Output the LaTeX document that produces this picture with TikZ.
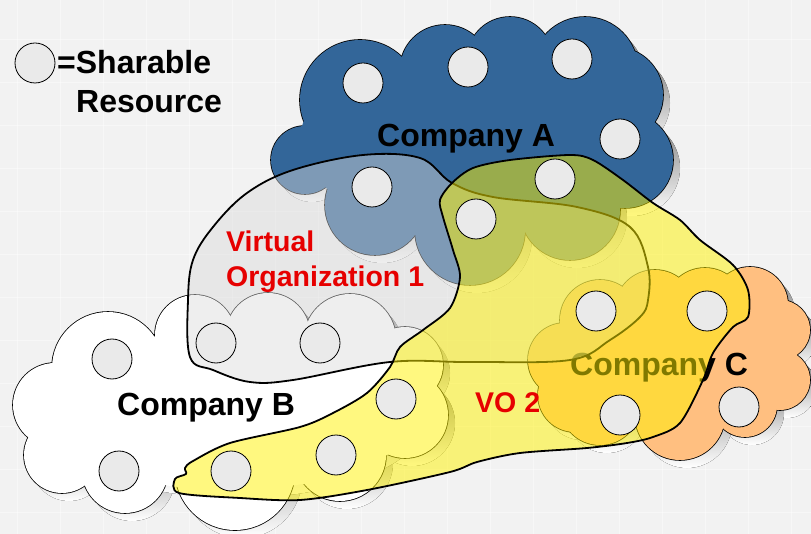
\documentclass[tikz,border=0pt]{standalone}
\usepackage{fontspec}
\setmainfont{Liberation Sans}
\definecolor{bgcol}{HTML}{F2F2F2}
\definecolor{compa}{HTML}{336699}
\definecolor{compc}{HTML}{FFBF80}
\definecolor{resgray}{HTML}{EAEAEA}
\definecolor{shade}{HTML}{808080}
\definecolor{vogray}{HTML}{DBDBDB}
\definecolor{vored}{HTML}{E60000}

% puffs of each cloud: x/y/radius
\newcommand\lobesA{305/160/34, 360/100/60, 445/70/45, 510/60/43, 585/70/53, 615/95/48, 625/160/48, 570/210/50, 470/230/55, 375/205/50}
\newcommand\lobesB{55/405/42, 108/368/56, 195/335/40, 268/335/42, 350/340/46, 405/365/38, 405/415/43, 340/455/46, 235/470/60, 125/470/43, 62/455/38}
\newcommand\lobesC{565/360/37, 600/320/40, 655/310/40, 705/308/40, 750/305/38, 780/330/30, 780/380/30, 745/405/32, 680/415/45, 600/405/40, 575/395/37}

% cloud with drop shadow: puffs, colour, centre, ellipse radii
\newcommand\cloudshape[4]{%
  \begin{scope}[shift={(7,8)}]
    \foreach \cx/\cy/\rad in #1 \fill[shade] (\cx,\cy) circle[radius=\rad pt];
    \fill[shade] #3 ellipse[#4];
  \end{scope}
  \foreach \cx/\cy/\rad in #1 \draw[line width=1.6pt] (\cx,\cy) circle[radius=\rad pt];
  \foreach \cx/\cy/\rad in #1 \fill[#2] (\cx,\cy) circle[radius=\rad pt];
  \fill[#2] #3 ellipse[#4];
}

\begin{document}
\begin{tikzpicture}
    [x=1pt,y=-1pt,
     res/.style={circle,draw,fill=resgray,line width=0.8pt,minimum size=40pt,inner sep=0pt},
     lbl/.style={font=\bfseries\fontsize{32}{36}\selectfont,inner sep=0pt,anchor=base west},
     volbl/.style={font=\bfseries\fontsize{28.5}{34}\selectfont,text=vored,inner sep=0pt,anchor=base west},
     voarea/.style={draw,line width=1.8pt,line join=round}]
  \useasboundingbox (0,0) rectangle (811,534);
  \fill[bgcol] (0,0) rectangle (811,534);
  \foreach \gx in {17,60,...,811}
    \draw[white,opacity=0.4,line width=0.6pt] (\gx,0) -- (\gx,534);
  \foreach \gy in {39,82,...,534}
    \draw[white,opacity=0.4,line width=0.6pt] (0,\gy) -- (811,\gy);

  % the three companies
  \cloudshape{\lobesB}{white}{(230,410)}{x radius=190pt,y radius=80pt}
  \cloudshape{\lobesC}{compc}{(670,360)}{x radius=110pt,y radius=60pt}
  \cloudshape{\lobesA}{compa}{(470,140)}{x radius=170pt,y radius=90pt}

  \node[lbl] (compA) at (377,147) {Company A};
  \node[lbl] (compB) at (117,415) {Company B};
  \node[lbl] (compC) at (570,375) {Company C};

  % virtual organizations
  \draw[voarea,fill=vogray,fill opacity=0.45] plot[smooth cycle,tension=0.6] coordinates {
    (247,193) (293,170) (363,155) (420,158) (452,183) (493,197) (577,207) (630,227)
    (648,267) (648,300) (640,317) (610,340) (570,360) (470,362) (390,362) (293,380)
    (250,382) (213,370) (190,357) (188,300) (193,260) (213,227)};
  \draw[voarea,fill=yellow,fill opacity=0.5] plot[smooth cycle,tension=0.5] coordinates {
    (452,183) (473,168) (510,160) (570,155) (593,160) (623,180) (653,203) (680,220)
    (700,240) (733,265) (748,290) (748,317) (733,327) (713,353) (703,380) (680,423)
    (653,437) (627,443) (587,448) (520,453) (477,462) (450,472) (367,490) (300,500)
    (240,498) (179,493) (175,479) (186,474) (185,468) (193,461) (230,443) (300,427)
    (333,413) (367,393) (390,367) (400,347) (423,330) (450,308) (460,277) (453,250)
    (443,217) (440,200)};

  % sharable resources
  \foreach \n/\x/\y in {key/35/63,
      a1/363/83, a2/468/67, a3/572/59, a4/620/139, a5/555/179, a6/372/187, a7/476/219,
      b1/112/359, b2/119/471, b3/216/343, b4/320/343, b5/231/471, b6/336/455, b7/396/399,
      c1/596/311, c2/707/311, c3/620/415, c4/739/407}
    \node[res] (\n) at (\x,\y) {};

  \node[lbl] (sharable) at (57,74) {=Sharable};
  \node[lbl] (resource) at (76,113) {Resource};
  \node[volbl] (vo1a) at (226,252) {Virtual};
  \node[volbl] (vo1b) at (226,287) {Organization 1};
  \node[volbl] (vo2) at (475,412) {VO 2};
\end{tikzpicture}
\end{document}
